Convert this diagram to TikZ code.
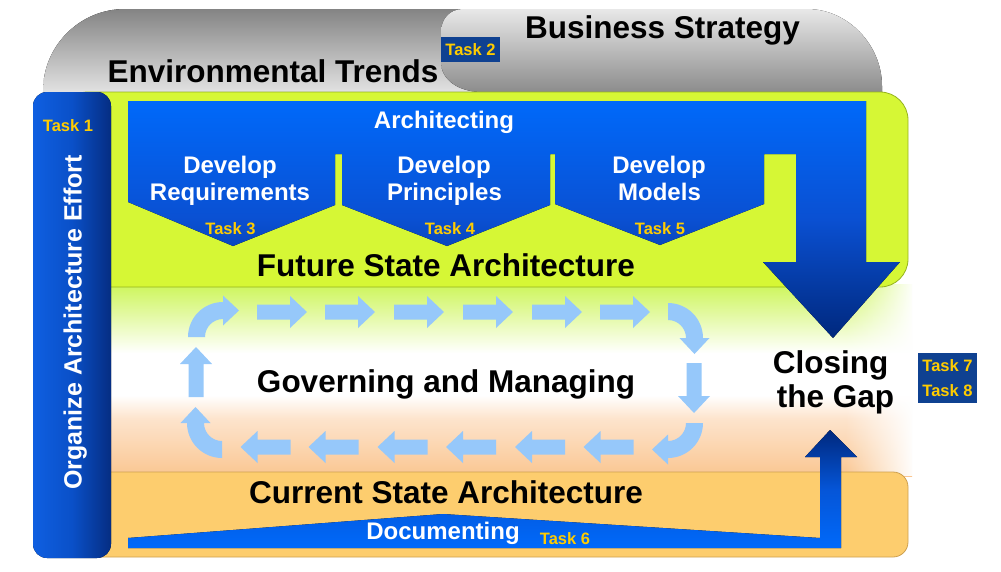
\documentclass[tikz,border=0pt]{standalone}
\usepackage{fontspec}
\setmainfont{Liberation Sans}
\usetikzlibrary{fadings}
\definecolor{envtop}{RGB}{132,132,132}
\definecolor{envbot}{RGB}{226,226,226}
\definecolor{bstop}{RGB}{232,232,232}
\definecolor{bsbot}{RGB}{140,140,140}
\definecolor{peach}{RGB}{250,198,145}
\definecolor{peachl}{RGB}{253,228,205}
\definecolor{lgreen}{RGB}{205,245,90}
\definecolor{limefill}{RGB}{214,247,53}
\definecolor{limedark}{RGB}{150,180,30}
\definecolor{orangefill}{RGB}{253,205,110}
\definecolor{orangedark}{RGB}{205,160,80}
\definecolor{barleft}{RGB}{15,95,225}
\definecolor{barmid}{RGB}{10,80,200}
\definecolor{barright}{RGB}{5,45,130}
\definecolor{archtop}{RGB}{0,105,250}
\definecolor{archmid}{RGB}{10,80,210}
\definecolor{archbot}{RGB}{0,40,125}
\definecolor{docmid}{RGB}{5,85,215}
\definecolor{loopblue}{RGB}{150,200,250}
\definecolor{taskyellow}{RGB}{255,204,0}
\definecolor{tasknavy}{RGB}{15,65,145}
\pgfdeclareverticalshading{midshade}{100bp}{color(0bp)=(peach); color(25bp)=(peach); color(40bp)=(peachl); color(46bp)=(white); color(57bp)=(white); color(75bp)=(lgreen); color(100bp)=(lgreen)}
\begin{document}
\begin{tikzpicture}[x=1pt,y=-1pt,
  big/.style={font=\fontsize{31.5}{36}\selectfont\bfseries, text=black, inner sep=0pt, anchor=base},
  wlabel/.style={font=\fontsize{24}{28}\selectfont\bfseries, text=white, inner sep=0pt, anchor=base},
  tasklabel/.style={font=\fontsize{16.5}{19}\selectfont\bfseries, text=taskyellow, inner sep=0pt, anchor=base},
  taskbox/.style={fill=tasknavy, font=\fontsize{16.5}{25}\selectfont\bfseries, text=taskyellow, inner sep=0pt, align=center},
  rarrow/.pic={\fill[loopblue] (-25,-7.5) -- (8,-7.5) -- (8,-16) -- (25,0) -- (8,16) -- (8,7.5) -- (-25,7.5) -- cycle;},
  carrow/.pic={\fill[loopblue] (-35,0) .. controls (-35,-19.33) and (-19.33,-35) .. (0,-35) -- (0,-41.5) -- (16,-26.5) -- (0,-11.5) -- (0,-18) .. controls (-9.94,-18) and (-18,-9.94) .. (-18,0) -- cycle;}
]
\useasboundingbox (0,0) rectangle (1001,571);
% grey bands
\fill[top color=envtop, bottom color=envbot] (43,92) -- (43,91) .. controls (43,45.7) and (79.7,9) .. (125,9) -- (520,9) -- (520,92) -- cycle;
\fill[top color=bstop, bottom color=bsbot] (482,92) .. controls (459,92) and (441,80) .. (441,62) -- (441,32) .. controls (441,19) and (450,9) .. (463,9) -- (807,9) .. controls (848,9) and (882,45) .. (882,86) -- (882,92) -- cycle;
% middle gradient region
\fill[shading=midshade] (60,284) rectangle (912,476);
\fill[white, path fading=west] (845,284) rectangle (914,476);
% green and orange bands
\filldraw[fill=limefill, draw=limedark, line width=0.8pt, rounded corners=28pt] (60,92) rectangle (908,287);
\filldraw[fill=orangefill, draw=orangedark, line width=0.8pt, rounded corners=15pt] (60,472) rectangle (908,557);
% left bar
\fill[left color=barleft, right color=barright, middle color=barmid, rounded corners=14pt] (33,92) rectangle (111,558);
% architecting shape with down arrow
\fill[top color=archtop, bottom color=archbot, middle color=archmid] (128,101) -- (866,101) -- (866,262) -- (900,262) -- (833,338) -- (763,262) -- (796,262) -- (796,154) -- (764,154) -- (764,204) -- (660,245) -- (555,204) -- (555,154) -- (550,154) -- (550,205) -- (447,246) -- (342,205) -- (342,154) -- (335,154) -- (335,205) -- (233,246) -- (128,202) -- cycle;
% documenting shape with up arrow
\fill[top color=archbot, bottom color=archtop, middle color=docmid] (128,548) -- (128,538) -- (443,514) -- (820,538) -- (820,457) -- (805,457) -- (830,430) -- (857,457) -- (841,457) -- (841,548) -- cycle;
% governing loop arrows
\foreach \cx in {282,350,419,488,557,625} \pic at (\cx,312) {rarrow};
\foreach \cx in {265.5,333.5,402.5,471,540,608.5} \pic[rotate=180] at (\cx,447) {rarrow};
\pic[rotate=90] at (196,372) {rarrow};
\pic[rotate=-90] at (694,388) {rarrow};
\pic at (223,337) {carrow};
\pic[rotate=-90] at (668,338) {carrow};
\pic[rotate=180] at (668,423) {carrow};
\pic[rotate=90] at (222,423) {carrow};
% texts
\node[big] (env) at (273,82) {Environmental Trends};
\node[big] (bs) at (662.5,38) {Business Strategy};
\node[taskbox, minimum width=59pt, minimum height=25pt] (t2) at (470.5,49.5) {Task 2};
\node[tasklabel] (t1) at (68,131) {Task 1};
\node[wlabel, font=\fontsize{25}{28}\selectfont\bfseries, rotate=90] (org) at (81.5,322.5) {Organize Architecture Effort};
\node[wlabel] (arch) at (444,128) {Architecting};
\node[wlabel] (dr1) at (230,173) {Develop};
\node[wlabel] (dr2) at (230,200) {Requirements};
\node[wlabel] (dp1) at (444,173) {Develop};
\node[wlabel] (dp2) at (444.5,200) {Principles};
\node[wlabel] (dm1) at (659,173) {Develop};
\node[wlabel] (dm2) at (659.5,200) {Models};
\node[tasklabel] (t3) at (230.5,234) {Task 3};
\node[tasklabel] (t4) at (450,234) {Task 4};
\node[tasklabel] (t5) at (660,234) {Task 5};
\node[big] (fsa) at (446,276) {Future State Architecture};
\node[big] (gm) at (446,392) {Governing and Managing};
\node[big] (cg1) at (830.5,373) {Closing};
\node[big] (cg2) at (835.5,407) {the Gap};
\node[taskbox, minimum width=59pt, minimum height=50pt] (t78) at (947.5,378) {Task 7\\Task 8};
\node[big] (csa) at (446,503) {Current State Architecture};
\node[wlabel] (doc) at (443,539) {Documenting};
\node[tasklabel] (t6) at (565,544) {Task 6};
\end{tikzpicture}
\end{document}
